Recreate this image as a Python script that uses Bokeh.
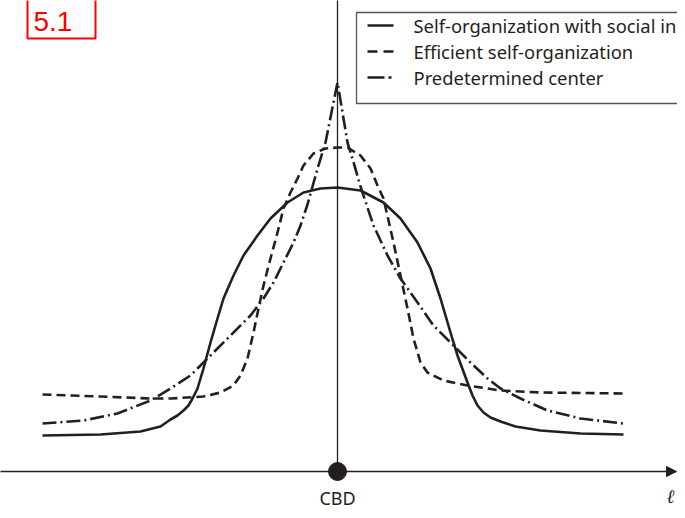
from bokeh.plotting import figure
from bokeh.models import Range1d, Arrow, NormalHead
from bokeh.core.properties import value
from bokeh.embed import file_html
from bokeh.resources import INLINE

INK = "#231f20"
FONT = "Noto Sans"

# distance from the CBD (x) and population density (y) for each regime
solid_x = [-2.95, -2.37, -1.97, -1.77, -1.67, -1.60, -1.54, -1.49, -1.45, -1.40, -1.34, -1.27, -1.20, -1.14,
           -1.04, -0.94, -0.80, -0.67, -0.50, -0.34, -0.17, 0.00, 0.23, 0.46, 0.63, 0.80, 0.93, 1.03,
           1.13, 1.20, 1.30, 1.35, 1.40, 1.46, 1.53, 1.63, 1.78, 2.03, 2.43, 2.86]
solid_y = [0.36, 0.37, 0.40, 0.45, 0.52, 0.56, 0.61, 0.66, 0.73, 0.83, 1.03, 1.29, 1.53, 1.73,
           1.96, 2.16, 2.36, 2.53, 2.69, 2.79, 2.83, 2.84, 2.81, 2.69, 2.53, 2.29, 2.03, 1.73,
           1.39, 1.16, 0.89, 0.76, 0.66, 0.59, 0.54, 0.50, 0.45, 0.41, 0.38, 0.37]

dash_x = [-2.95, -2.37, -1.87, -1.67, -1.34, -1.17, -1.04, -0.97, -0.90, -0.84, -0.79, -0.74, -0.67, -0.60,
          -0.54, -0.47, -0.40, -0.34, -0.24, -0.12, 0.00, 0.10, 0.23, 0.33, 0.40, 0.46, 0.56, 0.63, 0.70,
          0.76, 0.83, 0.90, 1.06, 1.30, 1.63, 2.03, 2.86]
dash_y = [0.77, 0.75, 0.73, 0.73, 0.75, 0.79, 0.86, 0.96, 1.13, 1.39, 1.63, 1.86, 2.13, 2.39,
          2.63, 2.79, 2.93, 3.06, 3.18, 3.23, 3.24, 3.24, 3.16, 3.03, 2.86, 2.73, 2.29, 1.96, 1.63,
          1.33, 1.09, 0.99, 0.91, 0.86, 0.81, 0.79, 0.78]

dot_x = [-2.95, -2.54, -2.20, -1.87, -1.67, -1.47, -1.27, -1.07, -0.87, -0.74, -0.64, -0.54, -0.44, -0.37,
         -0.30, -0.25, -0.19, -0.12, 0.00, 0.10, 0.17, 0.23, 0.36, 0.50, 0.63, 0.80, 0.96, 1.16, 1.33,
         1.50, 1.63, 1.83, 2.10, 2.43, 2.86]
dot_y = [0.48, 0.51, 0.58, 0.71, 0.83, 0.96, 1.16, 1.36, 1.56, 1.73, 1.89, 2.09, 2.29, 2.46,
         2.67, 2.85, 3.06, 3.29, 3.89, 3.29, 3.06, 2.85, 2.46, 2.16, 1.93, 1.69, 1.46, 1.26, 1.09,
         0.93, 0.83, 0.73, 0.61, 0.53, 0.48]

series_names = ["Self-organization with social in", "Efficient self-organization", "Predetermined center"]
center_label = "CBD"
axis_label = "\u2113"
figure_tag = "5.1"

p = figure(width=677, height=510, x_range=Range1d(-3.37, 3.40), y_range=Range1d(-0.39, 4.71),
           output_backend="svg", toolbar_location=None, min_border=0)
p.axis.visible = False
p.grid.visible = False
p.outline_line_color = None
p.background_fill_color = "white"

# red figure tag
p.quad(left=-3.10, right=-2.42, bottom=4.33, top=4.9, fill_color=None, line_color="red", line_width=2)
p.text(x=[-3.04], y=[4.50], text=[figure_tag], text_color="red", text_font=value("Liberation Sans"),
       text_font_size="28px", text_baseline="alphabetic", text_align="left")

# centre vertical line
p.segment(x0=[0], y0=[0], x1=[0], y1=[4.8], line_color=INK, line_width=1.3)

# horizontal axis with arrow
p.add_layout(Arrow(end=NormalHead(size=10, fill_color=INK, line_color=INK), x_start=-3.5, y_start=0,
                   x_end=3.39, y_end=0, line_color=INK, line_width=1.5))

# curves
p.line(solid_x, solid_y, line_color=INK, line_width=2.6, line_join="round")
p.line(dash_x, dash_y, line_color=INK, line_width=2.6, line_dash="9 5", line_join="round")
p.line(dot_x, dot_y, line_color=INK, line_width=2.6, line_dash="14 4 2 4", line_join="round")

# CBD point and labels
p.scatter([0], [0], size=18, fill_color=INK, line_color=INK)
p.text(x=[0], y=[-0.26], text=[center_label], text_color=INK, text_font=value(FONT),
       text_font_size="18px", text_align="center", text_baseline="middle")
p.text(x=[3.33], y=[-0.24], text=[axis_label], text_color=INK, text_font=value("DejaVu Serif"),
       text_font_style="italic", text_font_size="19px", text_align="center", text_baseline="middle")

# legend
p.quad(left=0.19, right=3.6, bottom=3.68, top=4.59, fill_color="white", line_color="#555555", line_width=1.3)
leg_y = [4.46, 4.20, 3.94]
dashes = ["solid", "10 6", "17 4 3 10"]
for yy, dsh, name in zip(leg_y, dashes, series_names):
    p.line([0.30, 0.56], [yy, yy], line_color=INK, line_width=2.6, line_dash=dsh)
    p.text(x=[0.76], y=[yy], text=[name], text_color=INK, text_font=value(FONT),
           text_font_size="18.4px", text_align="left", text_baseline="middle")

open("out.html", "w").write(file_html(p, INLINE))
